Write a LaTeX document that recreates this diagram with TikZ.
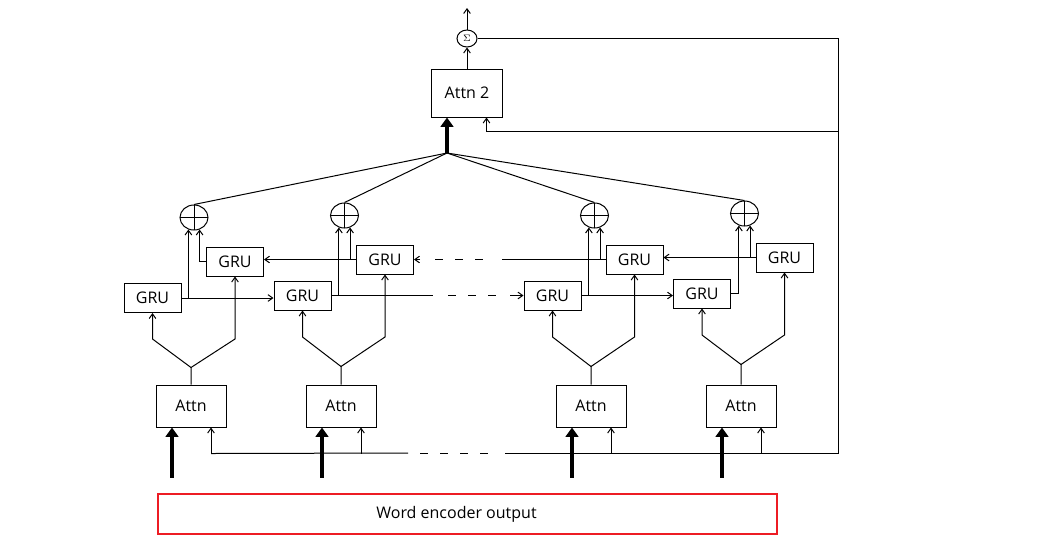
\documentclass[tikz,border=0pt]{standalone}
\usepackage{fontspec}
\setmainfont{Open Sans}
\usetikzlibrary{arrows.meta,calc,shapes.geometric}
\definecolor{boxred}{RGB}{237,28,36}
\newcommand{\boxfont}{\fontsize{12}{14}\selectfont}
\tikzset{
	box/.style={draw, inner sep=0pt, font=\boxfont},
	grubox/.style={box, minimum width=42.75pt, minimum height=21.75pt},
	attnbox/.style={box, minimum width=52.5pt, minimum height=31.5pt},
	oplus/.style={ellipse, draw, inner sep=0pt, minimum width=21pt, minimum height=18.75pt,
		path picture={\draw (path picture bounding box.north) -- (path picture bounding box.south)
			(path picture bounding box.west) -- (path picture bounding box.east);}},
	sumnode/.style={ellipse, draw, inner sep=0pt, minimum width=15pt, minimum height=12.75pt},
	arr/.style={-{Straight Barb[length=3.5pt,width=5pt]}},
	fat/.style={line width=3.5pt, -{Triangle[length=7pt,width=9.5pt]}},
	gapline/.style={dash pattern=on 6pt off 9pt, dash phase=6pt},
}

\begin{document}
\begin{tikzpicture}[x=0.75pt, y=-0.75pt, line width=0.75pt]
		%%%%% START %%%%%
		\useasboundingbox (0,0) rectangle (1049,551);
		
		\node[box, minimum width=53.25pt, minimum height=36pt] (attnTop) at (467,93) {Attn 2};
		\node[sumnode] (sum) at (467,38.5) {\fontsize{7}{7}\selectfont$\Sigma$};
		\coordinate (out) at (467,8);
		\draw[arr] (attnTop.north) -- (sum.south);
		\draw[arr] (sum.north) -- (out);
		
		\node[oplus] (p1) at (194,217.5) {};
		\node[oplus] (p2) at (344.5,215.5) {};
		\node[oplus] (p3) at (594.5,215.5) {};
		\node[oplus] (p4) at (744.5,213.5) {};
		
		\node[grubox] (b1) at (235,261.5) {GRU};
		\node[grubox] (b2) at (385,259.5) {GRU};
		\node[grubox] (b3) at (634.5,259.5) {GRU};
		\node[grubox] (b4) at (784.5,257.5) {GRU};
		
		\node[grubox] (f1) at (152.5,298) {GRU};
		\node[grubox] (f2) at (302.5,295.5) {GRU};
		\node[grubox] (f3) at (552.5,295.5) {GRU};
		\node[grubox] (f4) at (702,293.5) {GRU};
		
		\node[attnbox] (a1) at (191,406) {Attn};
		\node[attnbox] (a2) at (341,406) {Attn};
		\node[attnbox] (a3) at (591,406) {Attn};
		\node[attnbox] (a4) at (741,406) {Attn};
		
		\node[draw=boxred, line width=1.2pt, minimum width=464.25pt, minimum height=30pt, font=\boxfont] (words) at (467.5,514) {Word encoder output\kern16.5pt};
		
		% hub into Attn 2
		\coordinate (hub) at (447,153);
		\draw (hub) -- (p1.north);
		\draw (hub) -- (p2.north);
		\draw (hub) -- (p3.north);
		\draw (hub) -- (p4.north);
		\draw[fat] (hub) -- (hub |- attnTop.south);
		
		% forward GRUs
		\draw[arr] (f1.east) -- (f2.west |- f1.east);
		\draw (f2.east) -- (433,295.5);
		\draw[gapline] (436,295.5) -- (506,295.5);
		\draw[arr] (510,295.5) -- (f3.west |- 510,295.5);
		\draw[arr] (f3.east) -- (f4.west |- f3.east);
		
		% backward GRUs
		\draw[arr] (b2.west) -- (b1.east |- b2.west);
		\draw[arr] (420,259.5) -- (b2.east);
		\draw[gapline] (423,259.5) -- (494,259.5);
		\draw (b3.west) -- (502,259.5);
		\draw[arr] (b4.west) -- (b3.east |- b4.west);
		
		% into the oplus nodes
		\draw[arr] (f1.east -| p1.245) -- (p1.245);
		\draw[arr] (b1.west) -| (p1.295);
		\draw[arr] (f2.east -| p2.245) -- (p2.245);
		\draw[arr] (b2.west -| p2.295) -- (p2.295);
		\draw[arr] (f3.east -| p3.245) -- (p3.245);
		\draw[arr] (b3.west -| p3.295) -- (p3.295);
		\draw[arr] (f4.east) -| (p4.245);
		\draw[arr] (b4.west -| p4.295) -- (p4.295);
		
		% Attn forks
		\draw[arr] (a1.north) -- ++(0,-17) -- (f1.south |- 0,339) -- (f1.south);
		\draw[arr] (a1.north) ++(0,-17) -- (b1.south |- 0,339) -- (b1.south);
		\draw[arr] (a2.north) -- ++(0,-18) -- (f2.south |- 0,337) -- (f2.south);
		\draw[arr] (a2.north) ++(0,-18) -- (b2.south |- 0,337) -- (b2.south);
		\draw[arr] (a3.north) -- ++(0,-18) -- (f3.south |- 0,337) -- (f3.south);
		\draw[arr] (a3.north) ++(0,-18) -- (b3.south |- 0,337) -- (b3.south);
		\draw[arr] (a4.north) -- ++(0,-20) -- (f4.south |- 0,335) -- (f4.south);
		\draw[arr] (a4.north) ++(0,-20) -- (b4.south |- 0,335) -- (b4.south);
		
		% word encoder inputs
		\coordinate (w1) at ($(a1.south)+(-19,50)$);
		\coordinate (w2) at ($(a2.south)+(-19,50)$);
		\coordinate (w3) at ($(a3.south)+(-19,50)$);
		\coordinate (w4) at ($(a4.south)+(-19,50)$);
		\draw[fat] (w1) -- (w1 |- a1.south);
		\draw[fat] (w2) -- (w2 |- a2.south);
		\draw[fat] (w3) -- (w3 |- a3.south);
		\draw[fat] (w4) -- (w4 |- a4.south);
		
		% context line back from the sum
		\coordinate (q1) at ($(a1.south)+(20,26)$);
		\coordinate (q2) at ($(a2.south)+(20,26)$);
		\coordinate (q3) at ($(a3.south)+(20,26)$);
		\coordinate (q4) at ($(a4.south)+(20,26)$);
		\coordinate (corner) at (838,453);
		\coordinate (fb) at (838,131);
		\draw (q1) -- (408,453);
		\draw[gapline] (408,453) -- (499,453);
		\draw (sum.east) -| (corner) -- (505,453);
		\draw[arr] (q1) -- (q1 |- a1.south);
		\draw[arr] (q2) -- (q2 |- a2.south);
		\draw[arr] (q3) -- (q3 |- a3.south);
		\draw[arr] (q4) -- (q4 |- a4.south);
		\draw[arr] (fb) -| ($(attnTop.south)+(19.5,0)$);
		
		%%%%% END %%%%%
\end{tikzpicture}
\end{document}
